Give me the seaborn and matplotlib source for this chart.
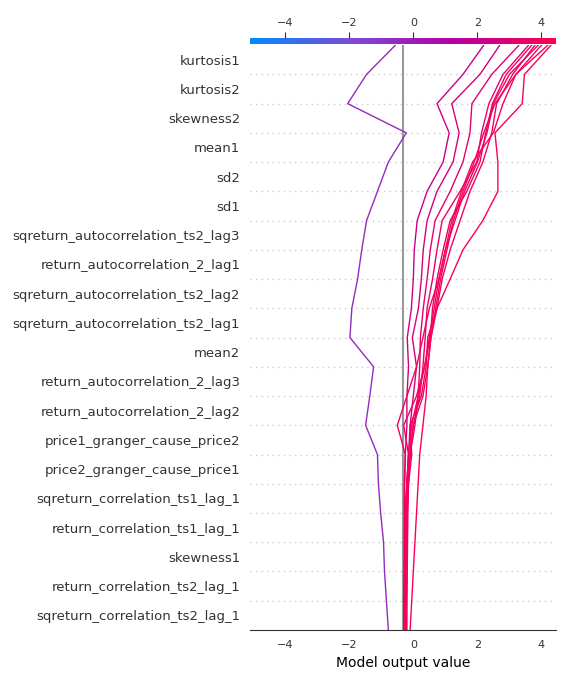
import numpy as np
import pandas as pd
import matplotlib
matplotlib.use("Agg")
import matplotlib.pyplot as plt
import seaborn as sns
from matplotlib.colors import LinearSegmentedColormap, Normalize

# features from top to bottom
features = ["kurtosis1", "kurtosis2", "skewness2", "mean1", "sd2", "sd1",
            "sqreturn_autocorrelation_ts2_lag3", "return_autocorrelation_2_lag1",
            "sqreturn_autocorrelation_ts2_lag2", "sqreturn_autocorrelation_ts2_lag1",
            "mean2", "return_autocorrelation_2_lag3", "return_autocorrelation_2_lag2",
            "price1_granger_cause_price2", "price2_granger_cause_price1",
            "sqreturn_correlation_ts1_lag_1", "return_correlation_ts1_lag_1",
            "skewness1", "return_correlation_ts2_lag_1", "sqreturn_correlation_ts2_lag_1"]
base_value = -0.31

# cumulative model output, from the bottom boundary (0) up to the top (20)
line_a = [-0.78, -0.84, -0.9, -0.93, -1.02, -1.09, -1.12, -1.49, -1.36, -1.24, -1.98,
          -1.92, -1.74, -1.61, -1.46, -1.12, -0.78, -0.22, -2.05, -1.46, -0.56]
line_b = [-0.25, -0.25, -0.26, -0.27, -0.28, -0.28, -0.25, -0.2, -0.2, -0.15, -0.19,
          -0.06, 0.0, 0.03, 0.12, 0.43, 0.93, 1.12, 0.74, 1.55, 2.2]
line_c = [-0.28, -0.27, -0.27, -0.26, -0.25, -0.2, -0.15, -0.1, 0.0, 0.1, -0.03,
          0.16, 0.25, 0.31, 0.43, 0.74, 1.24, 1.43, 1.2, 2.08, 2.7]
line_d = [-0.3, -0.29, -0.28, -0.27, -0.26, -0.2, -0.1, 0.05, 0.15, 0.2, 0.22,
          0.31, 0.43, 0.53, 0.68, 1.15, 1.55, 1.77, 1.83, 2.45, 3.3]
line_e = [-0.22, -0.21, -0.2, -0.2, -0.19, -0.15, -0.1, 0.0, 0.2, 0.3, 0.37,
          0.43, 0.6, 0.74, 0.9, 1.46, 1.98, 2.13, 2.36, 2.8, 3.6]
line_f = [-0.27, -0.26, -0.25, -0.24, -0.22, -0.2, -0.15, -0.3, 0.1, 0.35, 0.53,
          0.6, 0.74, 0.93, 1.15, 1.67, 2.08, 2.26, 2.47, 2.9, 3.7]
line_g = [-0.2, -0.2, -0.19, -0.18, -0.17, -0.15, -0.05, -0.1, 0.25, 0.4, 0.45,
          0.74, 0.9, 1.15, 1.46, 1.77, 2.17, 2.45, 2.6, 3.1, 3.8]
line_h = [-0.3, -0.3, -0.29, -0.29, -0.28, -0.27, -0.25, -0.5, -0.2, 0.1, 0.3,
          0.5, 0.8, 1.0, 1.3, 1.6, 2.0, 2.3, 2.5, 3.0, 3.9]
line_i = [-0.24, -0.24, -0.23, -0.22, -0.2, -0.18, -0.1, 0.0, 0.3, 0.45, 0.55,
          0.7, 0.85, 1.05, 1.25, 1.55, 1.9, 2.2, 2.55, 3.2, 4.0]
line_j = [-0.26, -0.25, -0.24, -0.23, -0.22, -0.2, -0.15, -0.05, 0.15, 0.35, 0.5,
          0.65, 0.8, 1.0, 1.2, 1.5, 1.85, 2.5, 2.8, 3.2, 4.2]
line_k = [-0.1, -0.05, 0.0, 0.05, 0.1, 0.15, 0.2, 0.3, 0.4, 0.45, 0.55,
          0.74, 1.15, 1.55, 2.17, 2.64, 2.64, 2.55, 3.4, 3.47, 4.3]
lines = [line_a, line_b, line_c, line_d, line_e, line_f, line_g, line_h, line_i, line_j, line_k]

xlim = (-5.1, 4.45)
cmap = LinearSegmentedColormap.from_list("shap", ["#008bfb", "#7d4bd6", "#b400a0", "#ff0052"])
norm = Normalize(*xlim)

rows = []
for k, vals in enumerate(lines):
    for lvl, v in enumerate(vals):
        rows.append({"obs": k, "level": lvl, "value": v})
df = pd.DataFrame(rows)
palette = {k: cmap(norm(vals[-1])) for k, vals in enumerate(lines)}

sns.set_style("white")
fig = plt.figure(figsize=(5.76, 6.84), dpi=100)
ax = fig.add_axes([0.434, 0.079, 0.531, 0.855])
n = len(features)
for y in range(1, n):
    ax.axhline(y, color="#cccccc", lw=1, ls=(0, (1, 3)), zorder=0)
ax.axvline(base_value, color="#999999", lw=1.5, zorder=1)
sns.lineplot(data=df, x="value", y="level", hue="obs", units="obs", estimator=None,
             sort=False, palette=palette, legend=False, lw=1, ax=ax, zorder=2)
ax.set_xlim(*xlim)
ax.set_ylim(0, n)
ax.set_yticks(np.arange(n) + 0.5)
ax.set_yticklabels(features[::-1], fontsize=9.5, color="#333333")
ax.set_xticks([-4, -2, 0, 2, 4])
ax.set_xticklabels(["\u22124", "\u22122", "0", "2", "4"])
ax.tick_params(axis="x", labelsize=8, length=4, color="#333333", labelcolor="#333333")
ax.tick_params(axis="y", length=0, pad=7)
ax.set_xlabel("Model output value", fontsize=10, color="#000000")
ax.set_ylabel("")
for s in ["left", "right", "top"]:
    ax.spines[s].set_visible(False)
ax.spines["bottom"].set_color("#333333")

cax = fig.add_axes([0.434, 0.9357, 0.531, 0.0088])
grad = np.linspace(*xlim, 256).reshape(1, -1)
cax.imshow(grad, aspect="auto", cmap=cmap, norm=norm, extent=[xlim[0], xlim[1], 0, 1])
cax.set_xlim(*xlim)
cax.set_yticks([])
cax.xaxis.tick_top()
cax.set_xticks([-4, -2, 0, 2, 4])
cax.set_xticklabels(["\u22124", "\u22122", "0", "2", "4"])
cax.tick_params(axis="x", labelsize=8, length=4, color="#333333", labelcolor="#333333")
for s in cax.spines.values():
    s.set_visible(False)

fig.savefig("out.png", dpi=100)
